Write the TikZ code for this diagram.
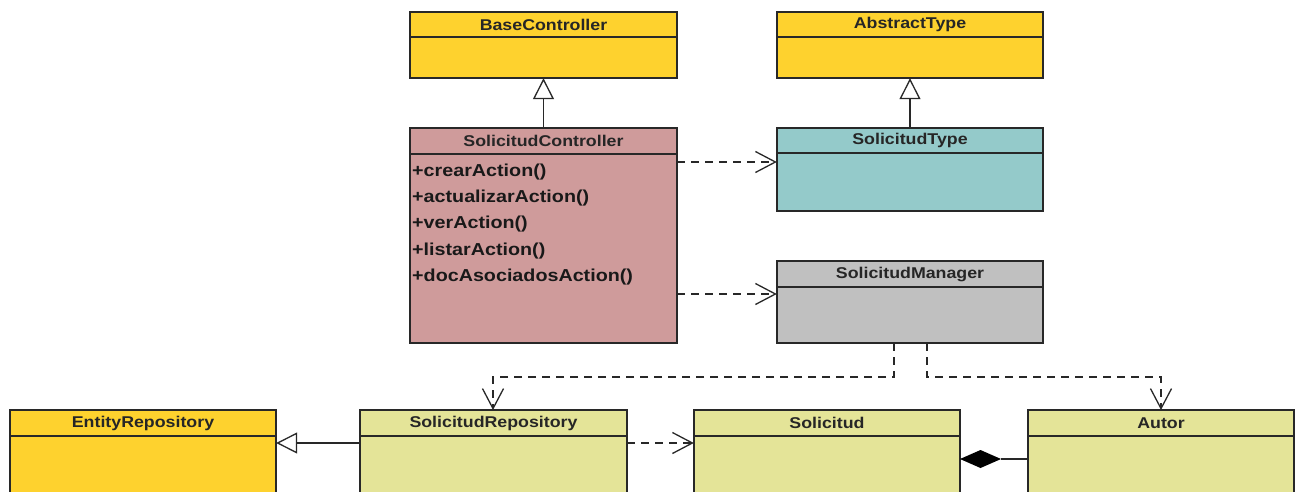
\documentclass[tikz,border=0pt]{standalone}
\usepackage{fontspec}
\newfontfamily\umlfont{Liberation Sans}[FakeStretch=1.14]
\usetikzlibrary{arrows.meta}
\definecolor{gold}{RGB}{254,210,46}
\definecolor{rose}{RGB}{207,155,155}
\definecolor{teal}{RGB}{148,202,202}
\definecolor{grey}{RGB}{192,192,192}
\definecolor{khaki}{RGB}{228,228,152}
\definecolor{edge}{RGB}{40,40,40}
\tikzset{
  classbox/.style={draw=edge, line width=1.4pt, inner sep=0pt},
  divider/.style={draw=edge, line width=1.4pt},
  title/.style={font=\umlfont\bfseries\fontsize{15.6}{18}\selectfont, inner sep=0pt, text=black!85},
  method/.style={font=\umlfont\bfseries\fontsize{17.3}{19}\selectfont, inner sep=0pt, anchor=west,
    text height=12pt, text depth=4pt, text=black!90},
  depend/.style={draw=edge, line width=1.3pt, dash pattern=on 8pt off 6pt,
    -{Straight Barb[length=20pt,width=21pt,line width=1.3pt]}},
  inherit/.style={draw=edge, line width=1.3pt,
    -{Triangle[open,length=21pt,width=21pt,line width=1.3pt,fill=white]}},
  link/.style={draw=edge, line width=1.3pt},
}
% class box: name, x1, y1, x2, y2, divider y, fill, title
\newcommand{\umlclass}[8]{%
  \path[classbox, fill=#7] (#2,#3) rectangle (#4,#5);
  \node[draw=none, inner sep=0pt, minimum width=#4pt-#2pt, minimum height=#5pt-#3pt]
    (#1) at ({(#2+#4)/2},{(#3+#5)/2}) {};
  \draw[divider] (#2,#6) -- (#4,#6);
  \node[title] (#1-title) at ({(#2+#4)/2},{(#3+#6)/2}) {#8};
}
\begin{document}
\begin{tikzpicture}[x=1pt, y=-1pt]
\clip (0,0) rectangle (1296,491);
\fill[white] (0,0) rectangle (1296,491);

\umlclass{base}{410}{12}{677}{78}{37}{gold}{BaseController}
\umlclass{abst}{777}{12}{1043}{78}{37}{gold}{AbstractType}
\umlclass{ctrl}{410}{128}{677}{343}{154}{rose}{SolicitudController}
\umlclass{stype}{777}{128}{1043}{211}{153}{teal}{SolicitudType}
\umlclass{mgr}{777}{261}{1043}{343}{287}{grey}{SolicitudManager}
\umlclass{erepo}{10}{410}{276}{500}{436}{gold}{EntityRepository}
\umlclass{srepo}{360}{410}{627}{500}{436}{khaki}{SolicitudRepository}
\umlclass{sol}{694}{410}{960}{500}{436}{khaki}{Solicitud}
\umlclass{autor}{1028}{410}{1294}{500}{436}{khaki}{Autor}

% operations of SolicitudController
\node[method] (m1) at (412,172) {+crearAction()};
\node[method] (m2) at (412,198) {+actualizarAction()};
\node[method] (m3) at (412,224) {+verAction()};
\node[method] (m4) at (412,251) {+listarAction()};
\node[method] (m5) at (412,277) {+docAsociadosAction()};

% generalizations
\draw[inherit] (ctrl.north) -- (base.south);
\draw[inherit] (stype.north) -- (abst.south);
\draw[inherit] (srepo.west |- 0,443) -- (erepo.east |- 0,443);

% dependencies
\draw[depend] (ctrl.east |- 0,162) -- (stype.west |- 0,162);
\draw[depend] (ctrl.east |- 0,294) -- (mgr.west |- 0,294);
\coordinate (mgrA) at (894,343);
\coordinate (mgrB) at (927,343);
\draw[depend] (mgrA) -- (894,377) -- (493,377) -- (493,410);
\draw[depend] (mgrB) -- (927,377) -- (1161,377) -- (1161,410);
\draw[depend] (srepo.east |- 0,443) -- (sol.west |- 0,443);

% composition Solicitud <>-- Autor
\coordinate (dtip) at (960,459);
\draw[link] (autor.west |- dtip) -- (1001,459);
\fill[black] (dtip) -- (980.5,450) -- (1001,459) -- (980.5,468) -- cycle;
\end{tikzpicture}
\end{document}
